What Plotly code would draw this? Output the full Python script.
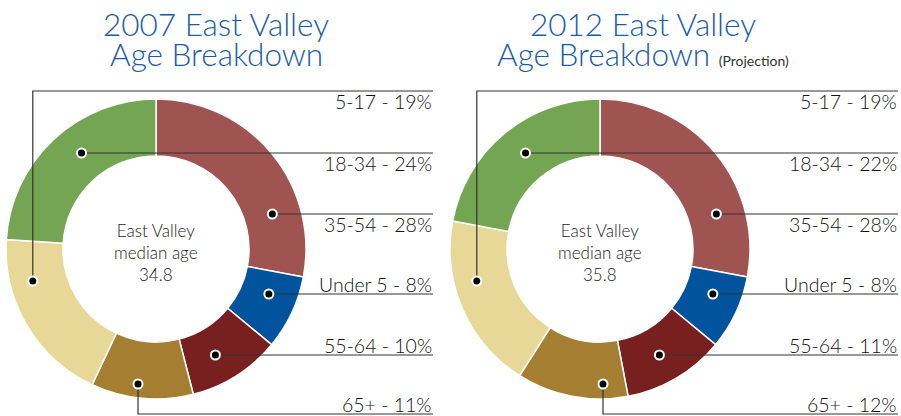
import math
import plotly.graph_objects as go

# ---------------- data ----------------
categories = ["35-54", "Under 5", "55-64", "65+", "5-17", "18-34"]
values_2007 = [28, 8, 10, 11, 19, 24]
values_2012 = [28, 8, 11, 12, 19, 22]
median_ages = [34.8, 35.8]
years = ["2007", "2012"]
label_order = ["5-17", "18-34", "35-54", "Under 5", "55-64", "65+"]

# ---------------- style / layout ----------------
W, H = 901, 416
colors = {"35-54": "#A05451", "Under 5": "#01539D", "55-64": "#782020",
          "65+": "#A57E31", "5-17": "#E8D898", "18-34": "#73A553"}
FONT = "Lato"
TITLE_BLUE = "#1A5CA8"
R_OUT, HOLE = 150, 0.62
centers = [(156, 249), (600, 249)]
label_right = [433, 898]
line_y = {"5-17": 91, "18-34": 153, "35-54": 214, "Under 5": 294, "55-64": 355, "65+": 414}
elbow_dot_y = {"5-17": 281, "65+": 384}
elbow_dx_65 = [-18, 3]
title_cx = [216, 643]
DOT_R = 4.5

fig = go.Figure()
annotations = []
shapes = []
r_mid = R_OUT * (1 + HOLE) / 2


def slice_mid_angle(vals, name):
    tot = sum(vals)
    acc = 0
    for c, v in zip(categories, vals):
        if c == name:
            return (acc + v / 2) / tot * 360
        acc += v
    return 0


for i, vals in enumerate([values_2007, values_2012]):
    cx, cy = centers[i]
    fig.add_trace(go.Pie(
        labels=categories, values=vals, sort=False, direction="clockwise",
        rotation=0, hole=HOLE, textinfo="none", hoverinfo="label+percent",
        marker=dict(colors=[colors[c] for c in categories], line=dict(color="white", width=1.5)),
        domain=dict(x=[(cx - R_OUT) / W, (cx + R_OUT) / W],
                    y=[(H - cy - R_OUT) / H, (H - cy + R_OUT) / H]),
        showlegend=False,
    ))

    lx = label_right[i]
    for name in label_order:
        pct = vals[categories.index(name)]
        ly = line_y[name]
        ang = slice_mid_angle(vals, name)
        if name == "5-17":
            dy = elbow_dot_y[name] - cy
            dx = -math.sqrt(r_mid ** 2 - dy ** 2)
            dot = (cx + dx - 6, cy + dy)
            path = f"M{dot[0]},{dot[1]} L{dot[0]},{ly} L{lx},{ly}"
        elif name == "65+":
            dot = (cx + elbow_dx_65[i], elbow_dot_y[name])
            path = f"M{dot[0]},{dot[1]} L{dot[0]},{ly} L{lx},{ly}"
        else:
            dy = ly - cy
            sgn = 1 if math.sin(math.radians(ang)) >= 0 else -1
            dx = sgn * math.sqrt(r_mid ** 2 - dy ** 2)
            dot = (cx + dx, ly)
            path = f"M{dot[0]},{ly} L{lx},{ly}"
        shapes.append(dict(type="path", path=path, xref="x", yref="y", layer="above",
                           line=dict(color="#333333", width=1.2)))
        shapes.append(dict(type="circle", xref="x", yref="y", layer="above",
                           x0=dot[0] - DOT_R, x1=dot[0] + DOT_R,
                           y0=dot[1] - DOT_R, y1=dot[1] + DOT_R,
                           fillcolor="black", line=dict(color="white", width=2)))
        top = name in ("5-17", "18-34", "35-54")
        annotations.append(dict(
            x=lx, y=ly, yshift=2 if top else -3, xref="x", yref="y",
            text=f"{name} - {pct}%", showarrow=False, xanchor="right",
            yanchor="top" if top else "bottom",
            font=dict(family=FONT, size=19.5, color="#111", weight=300), borderpad=0))

    annotations.append(dict(
        x=cx, y=252, xref="x", yref="y", showarrow=False,
        text=f"East Valley<br>median age<br>{median_ages[i]}",
        font=dict(family=FONT, size=17, color="#222", weight=300), align="center"))

    annotations.append(dict(
        x=title_cx[i], y=24, xref="x", yref="y", showarrow=False,
        text=f"{years[i]} East Valley",
        font=dict(family=FONT, size=31.5, color=TITLE_BLUE, weight=300)))
    sub = "Age Breakdown" + (" <span style='font-size:14px;color:#333;font-weight:400'>(Projection)</span>" if i == 1 else "")
    annotations.append(dict(
        x=title_cx[i], y=54, xref="x", yref="y", showarrow=False,
        text=sub, font=dict(family=FONT, size=31.5, color=TITLE_BLUE, weight=300)))

fig.update_layout(
    width=W, height=H, margin=dict(l=0, r=0, t=0, b=0),
    paper_bgcolor="white", plot_bgcolor="rgba(0,0,0,0)",
    xaxis=dict(range=[0, W], visible=False, fixedrange=True),
    yaxis=dict(range=[H, 0], visible=False, fixedrange=True),
    annotations=annotations, shapes=shapes,
)
fig.write_html("out.html", config={"displayModeBar": False},
               post_script="document.body.style.margin='0';")
